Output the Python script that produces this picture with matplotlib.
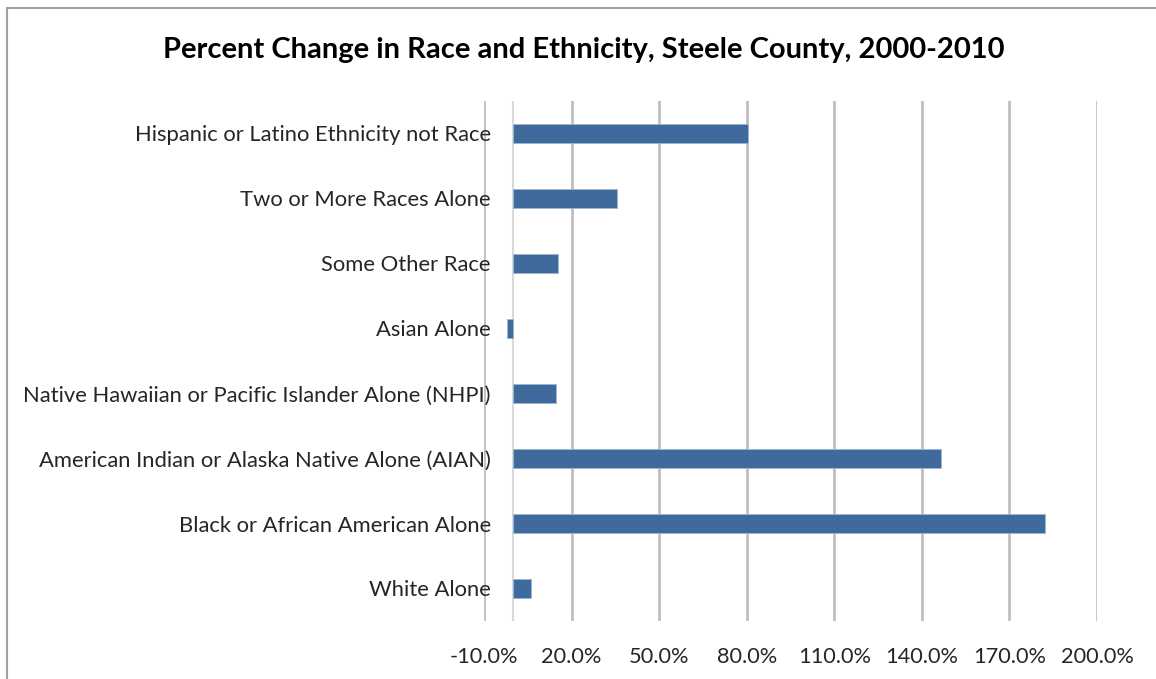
import matplotlib
matplotlib.use("Agg")
import matplotlib.pyplot as plt
from matplotlib.patches import Rectangle

categories = [
    "White Alone",
    "Black or African American Alone",
    "American Indian or Alaska Native Alone (AIAN)",
    "Native Hawaiian or Pacific Islander Alone (NHPI)",
    "Asian Alone",
    "Some Other Race",
    "Two or More Races Alone",
    "Hispanic or Latino Ethnicity not Race",
]
pct_change = [6.0, 182.1, 146.4, 14.5, -2.0, 15.4, 35.6, 80.4]
xticks = [-10, 20, 50, 80, 110, 140, 170, 200]

BAR = "#3F6A9C"
GRID = "#c0c0c0"

plt.rcParams["font.family"] = ["Lato", "DejaVu Sans"]

fig = plt.figure(figsize=(11.56, 6.79), dpi=100)
ax = fig.add_axes([484 / 1156, 1 - 621 / 679, (1097 - 484) / 1156, (621 - 101) / 679])

# chart frame (gray border running off the right/bottom edge)
fig.patches.append(Rectangle((7 / 1156, -0.05), 1.1, 1 - 8 / 679 + 0.05,
                             transform=fig.transFigure, fill=False,
                             edgecolor="#a0a0a0", linewidth=1.5))

y = range(len(categories))
ax.barh(y, pct_change, height=0.29, color=BAR, edgecolor="#9fb6d3",
        linewidth=0.6, zorder=3)

ax.set_xlim(-10, 200)
ax.set_ylim(-0.5, len(categories) - 0.5)
ax.set_xticks(xticks)
ax.set_xticklabels([f"{v:.1f}%" for v in xticks])
ax.set_yticks(list(y))
ax.set_yticklabels(categories)

for v in xticks:
    ax.axvline(v, color=GRID, linewidth=2, zorder=1)
ax.axvline(0, color="#d9d9d9", linewidth=1.5, zorder=2)

for s in ax.spines.values():
    s.set_visible(False)
ax.tick_params(axis="y", length=0, pad=-5, labelsize=15.8, labelcolor="#262626")
ax.tick_params(axis="x", length=0, pad=19, labelsize=15.7, labelcolor="#262626")

fig.text(584 / 1156, 1 - 50 / 679, "Percent Change in Race and Ethnicity, Steele County, 2000-2010",
         ha="center", va="center", fontsize=21, fontweight="bold", color="black")

fig.savefig("out.png", dpi=100)
